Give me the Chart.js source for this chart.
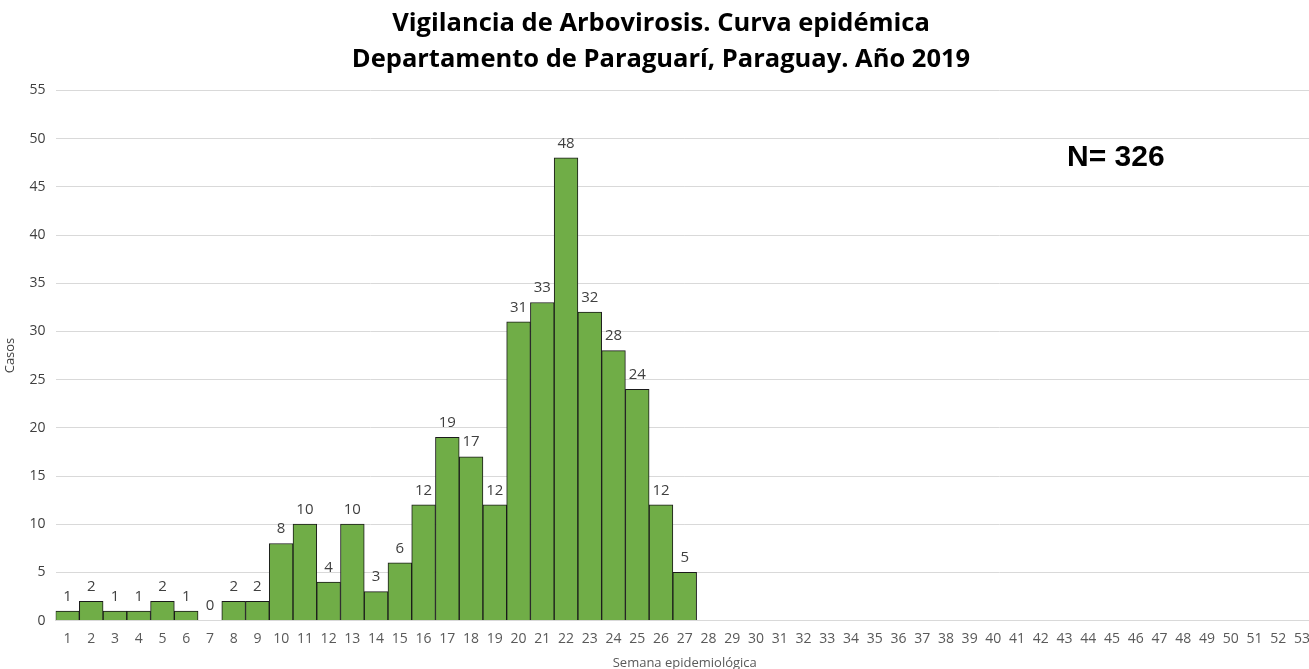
<!DOCTYPE html>
<html>
<head>
<meta charset="utf-8">
<script src="https://cdn.jsdelivr.net/npm/chart.js@4/dist/chart.umd.min.js"></script>
<style>
  html, body { margin: 0; padding: 0; background: #fff; overflow: hidden; }
  #wrap { width: 1320px; height: 669px; }
</style>
</head>
<body>
<div id="wrap"><canvas id="myChart"></canvas></div>
<script>
// semanas 1..53
var semanas = [];
for (var i = 1; i <= 53; i++) semanas.push(String(i));

// casos por semana (hasta la 27)
var casos = [1, 2, 1, 1, 2, 1, 0, 2, 2, 8, 10, 4, 10, 3, 6, 12, 19, 17, 12, 31, 33, 48, 32, 28, 24, 12, 5];

var tituloLineas = ['Vigilancia de Arbovirosis. Curva epidémica', 'Departamento de Paraguarí, Paraguay. Año 2019'];
var totalTexto = 'N= 326';

// etiquetas de valor encima de cada barra
var etiquetas = {
    id: 'etiquetas',
    afterDatasetsDraw: function (chart) {
        var ctx = chart.ctx;
        var meta = chart.getDatasetMeta(0);
        ctx.save();
        ctx.font = '15px "Open Sans", sans-serif';
        ctx.fillStyle = '#404040';
        ctx.textAlign = 'center';
        ctx.textBaseline = 'bottom';
        meta.data.forEach(function (bar, idx) {
            var v = casos[idx];
            if (v === null || v === undefined) return;
            ctx.fillText(String(v), bar.x, bar.y - 7);
        });
        // total
        ctx.font = 'bold 30px "Liberation Sans", Arial, sans-serif';
        ctx.fillStyle = '#000';
        ctx.textAlign = 'left';
        ctx.textBaseline = 'middle';
        ctx.fillText(totalTexto, 1067, 158);
        ctx.restore();
    }
};

var ctx = document.getElementById('myChart').getContext('2d');
var chart = new Chart(ctx, {
    type: 'bar',
    data: {
        labels: semanas,
        datasets: [{
            label: 'Casos',
            data: casos,
            backgroundColor: '#70ad47',
            borderColor: '#1a1a1a',
            borderWidth: 1,
            barPercentage: 1,
            categoryPercentage: 1
        }]
    },
    options: {
        responsive: true,
        maintainAspectRatio: false,
        animation: false,
        layout: { padding: { left: 2, right: 0, top: 0, bottom: -2 } },
        plugins: {
            legend: { display: false },
            tooltip: { enabled: false },
            title: {
                display: true,
                text: tituloLineas,
                color: '#000',
                font: { family: '"Open Sans", sans-serif', size: 25.5, weight: 'bold', lineHeight: 1.4 },
                padding: { top: 6, bottom: 13 }
            }
        },
        scales: {
            x: {
                grid: { display: false, drawTicks: false },
                border: { display: true, color: '#d9d9d9' },
                ticks: {
                    color: '#595959',
                    font: { family: '"Open Sans", sans-serif', size: 14 },
                    maxRotation: 0,
                    autoSkip: false,
                    padding: 10
                },
                title: {
                    display: true,
                    text: 'Semana epidemiológica',
                    color: '#595959',
                    font: { family: '"Open Sans", sans-serif', size: 13 },
                    padding: { top: -2, bottom: 0 }
                }
            },
            y: {
                min: 0,
                max: 55,
                grid: { color: '#d9d9d9', drawTicks: false },
                border: { display: false },
                ticks: {
                    stepSize: 5,
                    color: '#404040',
                    font: { family: '"Open Sans", sans-serif', size: 14 },
                    padding: 10
                },
                title: {
                    display: true,
                    text: 'Casos',
                    color: '#404040',
                    font: { family: '"Open Sans", sans-serif', size: 13 },
                    padding: { top: 0, bottom: 2 }
                }
            }
        }
    },
    plugins: [etiquetas]
});
</script>
</body>
</html>
